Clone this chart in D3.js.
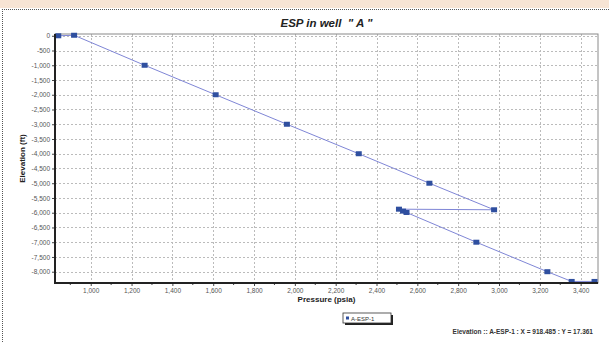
<!DOCTYPE html>
<html><head><meta charset="utf-8">
<script src="https://cdn.jsdelivr.net/npm/d3@7/dist/d3.min.js"></script>
<style>
html,body{margin:0;padding:0;background:#fff;}
svg{display:block;font-family:"Liberation Sans",Arial,sans-serif;}
</style></head>
<body><svg id="c" width="609" height="342"></svg>
<script>
// Data (pressure psia, elevation ft) in drawing order
const pressure  = [841, 918.485, 1264, 1612, 1961, 2313, 2659, 2976, 2510, 2530, 2547, 2889, 3237, 3356, 3468];
const elevation = [0, 17.361, -1000, -2000, -3000, -4000, -5000, -5900, -5880, -5945, -5992, -7000, -8000, -8330, -8330];
const xTicks = [1000,1200,1400,1600,1800,2000,2200,2400,2600,2800,3000,3200,3400];
const yTicks = [0,-500,-1000,-1500,-2000,-2500,-3000,-3500,-4000,-4500,-5000,-5500,-6000,-6500,-7000,-7500,-8000];
const seriesName = "A-ESP-1";
const titleText = "ESP in well  \" A \"";
const xTitle = "Pressure (psia)";
const yTitle = "Elevation (ft)";
const statusText = "Elevation :: A-ESP-1 : X = 918.485 : Y = 17.361";

const svg = d3.select("#c");
const L = 55, R = 598, T = 34, B = 283;
const x = d3.scaleLinear().domain([825, 3485]).range([L, R]);
const y = d3.scaleLinear().domain([-8383, 60]).range([B, T]);
const fmt = v => d3.format(",")(v).replace("\u2212", "-");

// top band + dotted frame
svg.append("rect").attr("x",0).attr("y",0).attr("width",609).attr("height",8).attr("fill","#f7e4d4");
svg.append("line").attr("x1",2).attr("x2",609).attr("y1",9.5).attr("y2",9.5)
  .attr("stroke","#555").attr("stroke-width",1).attr("stroke-dasharray","1,1");
svg.append("line").attr("x1",2.5).attr("x2",2.5).attr("y1",9).attr("y2",342)
  .attr("stroke","#555").attr("stroke-width",1).attr("stroke-dasharray","1,1");

// title
svg.append("text").attr("x",(L+R)/2).attr("y",27).attr("text-anchor","middle")
  .attr("font-size",11.5).attr("font-weight","bold").attr("font-style","italic").attr("fill","#222")
  .style("white-space","pre").text(titleText);

// grid
const g = svg.append("g");
g.selectAll(".gy").data(yTicks).join("line")
  .attr("x1",L).attr("x2",R).attr("y1",d=>Math.round(y(d))+0.5).attr("y2",d=>Math.round(y(d))+0.5)
  .attr("stroke","#bbb").attr("stroke-dasharray","2,2");
g.selectAll(".gx").data(xTicks).join("line")
  .attr("y1",T).attr("y2",B).attr("x1",d=>Math.round(x(d))+0.5).attr("x2",d=>Math.round(x(d))+0.5)
  .attr("stroke","#bbb").attr("stroke-dasharray","2,2");

// plot border (top/right)
svg.append("rect").attr("x",L).attr("y",T).attr("width",R-L).attr("height",B-T)
  .attr("fill","none").attr("stroke","#8a8a8a").attr("stroke-width",1);

// line
const pts = pressure.map((p,i)=>[p, elevation[i]]);
svg.append("path").datum(pts)
  .attr("d", d3.line().x(d=>x(d[0])).y(d=>y(d[1])))
  .attr("fill","none").attr("stroke","#7f86d6").attr("stroke-width",1);

// markers
svg.selectAll(".m").data(pts).join("rect")
  .attr("x",d=>x(d[0])-3).attr("y",d=>y(d[1])-2.5).attr("width",6).attr("height",5)
  .attr("fill","#2f4f9f");

// axes
const xAxis = d3.axisBottom(x).tickValues(xTicks).tickFormat(fmt).tickSize(3).tickPadding(2);
const xa = svg.append("g").attr("transform",`translate(0,${B})`).call(xAxis);
xa.select(".domain").remove();
xa.selectAll("text").attr("font-size",6.5).attr("fill","#555").attr("font-family","Liberation Sans, Arial, sans-serif");
xa.selectAll("line").attr("stroke","#444");
// minor x ticks
const minor = d3.range(900, 3500, 200);
svg.selectAll(".mx").data(minor).join("line")
  .attr("x1",d=>x(d)).attr("x2",d=>x(d)).attr("y1",B).attr("y2",B+2).attr("stroke","#444");

const yAxis = d3.axisLeft(y).tickValues(yTicks).tickFormat(fmt).tickSize(3).tickPadding(2);
const ya = svg.append("g").attr("transform",`translate(${L},0)`).call(yAxis);
ya.select(".domain").remove();
ya.selectAll("text").attr("font-size",6.5).attr("fill","#555").attr("font-family","Liberation Sans, Arial, sans-serif");
ya.selectAll("line").attr("stroke","#444");

svg.append("line").attr("x1",L).attr("x2",L).attr("y1",T).attr("y2",B+1).attr("stroke","#222").attr("stroke-width",2);
svg.append("line").attr("x1",L-1).attr("x2",R).attr("y1",B).attr("y2",B).attr("stroke","#222").attr("stroke-width",2);

// axis titles
svg.append("text").attr("x",(L+R)/2).attr("y",302).attr("text-anchor","middle")
  .attr("font-size",8).attr("font-weight","bold").attr("fill","#222").text(xTitle);
svg.append("text").attr("transform",`translate(25,${(T+B)/2}) rotate(-90)`).attr("text-anchor","middle")
  .attr("font-size",8).attr("font-weight","bold").attr("fill","#222").text(yTitle);

// legend
const lg = svg.append("g").attr("transform","translate(343,313)");
lg.append("rect").attr("x",2).attr("y",2).attr("width",48).attr("height",10).attr("fill","#222");
lg.append("rect").attr("x",0).attr("y",0).attr("width",48).attr("height",10).attr("fill","#fff").attr("stroke","#333").attr("stroke-width",0.8);
lg.append("rect").attr("x",3).attr("y",3.5).attr("width",3).attr("height",3).attr("fill","#2f4f9f");
lg.append("text").attr("x",8).attr("y",7.5).attr("font-size",6).attr("fill","#333").text(seriesName);

// status
svg.append("text").attr("x",593).attr("y",334).attr("text-anchor","end")
  .attr("font-size",6.5).attr("font-weight","bold").attr("fill","#333").text(statusText);
</script></body></html>
